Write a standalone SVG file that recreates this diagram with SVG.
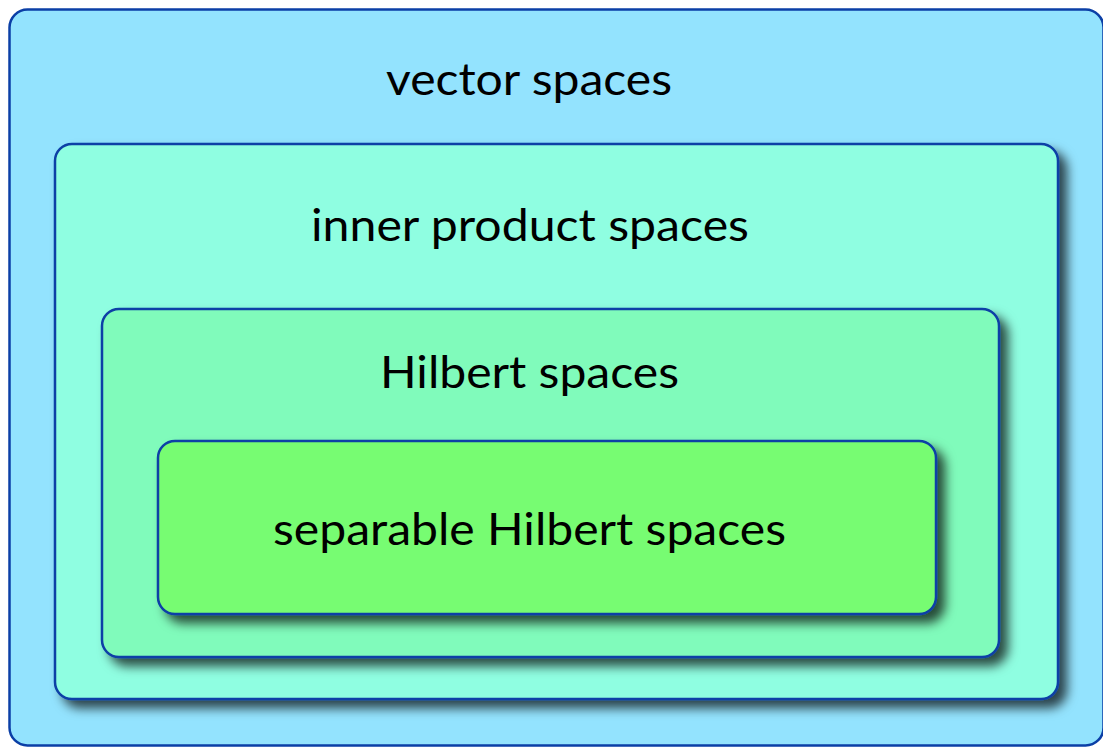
<svg xmlns="http://www.w3.org/2000/svg" width="1103" height="748" viewBox="0 0 1103 748">
<defs>
<filter id="sh" x="-10%" y="-10%" width="125%" height="135%">
<feDropShadow dx="8" dy="8" stdDeviation="5.5" flood-color="#000" flood-opacity="0.7"/>
</filter>
<style>
.box{stroke:#0b3fa6;stroke-width:2.5}
.lbl{font-family:Lato,"Open Sans","Liberation Sans",sans-serif;font-size:44px;fill:#000;text-anchor:middle}
</style>
</defs>
<rect width="1103" height="748" fill="#ffffff"/>
<g id="vector-spaces">
<rect class="box" x="9.5" y="9.5" width="1094" height="736" rx="18" fill="#93e3fe"/>
<text class="lbl" x="529" y="95" textLength="286" lengthAdjust="spacingAndGlyphs">vector spaces</text>
</g>
<g id="inner-product-spaces">
<rect class="box" x="55" y="144" width="1003" height="555" rx="17" fill="#8ffee1" filter="url(#sh)"/>
<text class="lbl" x="530" y="241" textLength="438" lengthAdjust="spacingAndGlyphs">inner product spaces</text>
</g>
<g id="hilbert-spaces">
<rect class="box" x="102" y="309" width="897" height="348" rx="17" fill="#80fbbb" filter="url(#sh)"/>
<text class="lbl" x="529.5" y="388" textLength="299" lengthAdjust="spacingAndGlyphs">Hilbert spaces</text>
</g>
<g id="separable-hilbert-spaces">
<rect class="box" x="158" y="441" width="778" height="173" rx="17" fill="#77fc72" filter="url(#sh)"/>
<text class="lbl" x="529.5" y="545" textLength="513" lengthAdjust="spacingAndGlyphs">separable Hilbert spaces</text>
</g>
<g id="connectors"/>
</svg>
